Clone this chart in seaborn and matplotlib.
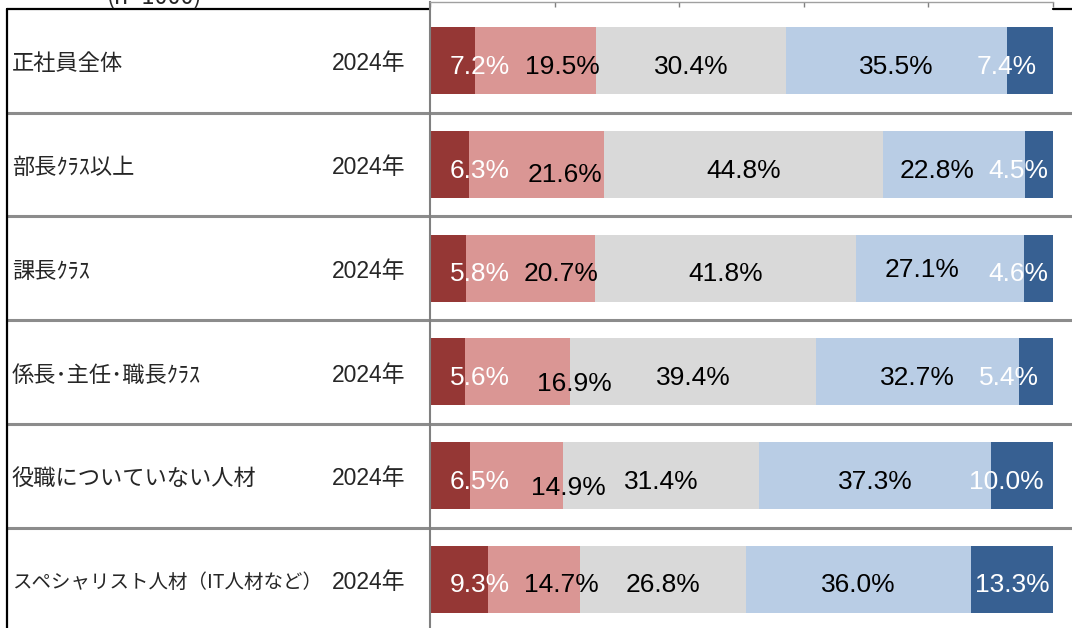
import numpy as np
import pandas as pd
import seaborn as sns
import matplotlib.pyplot as plt
from matplotlib.transforms import blended_transform_factory

# row labels
categories = ["正社員全体", "部長ｸﾗｽ以上", "課長ｸﾗｽ", "係長･主任･職長ｸﾗｽ",
              "役職についていない人材", "スペシャリスト人材（IT人材など）"]
year_label = "2024年"
n_label = "(n=1000)"

# shares per answer level (%), left to right
s1 = [7.2, 6.3, 5.8, 5.6, 6.5, 9.3]
s2 = [19.5, 21.6, 20.7, 16.9, 14.9, 14.7]
s3 = [30.4, 44.8, 41.8, 39.4, 31.4, 26.8]
s4 = [35.5, 22.8, 27.1, 32.7, 37.3, 36.0]
s5 = [7.4, 4.5, 4.6, 5.4, 10.0, 13.3]
series = [s1, s2, s3, s4, s5]

colors = ["#953735", "#DA9694", "#D9D9D9", "#B9CDE5", "#376092"]
text_colors = ["white", "black", "black", "black", "white"]

# manual label nudges (x in %, y in px) as placed in the original chart
shift_x = [
    [4.4, 4.85, 5.1, 5.2, 4.75, 3.35],
    [4.35, 4.6, 4.95, 9.15, 8.25, 4.45],
    [0, 0, 0, 0, 0, 0],
    [0, -2.7, -2.85, 0, 0, 0],
    [-3.8, -3.25, -3.3, -4.3, -2.6, 0],
]
shift_y = [
    [0, 0, 0, 0, 0, 0],
    [0, 4, 0, 6.5, 6, 0],
    [0, 0, 0, 0, 0, 0],
    [0, 0, -4, 0, 0, 0],
    [0, 0, 0, 0, 0, 0],
]

W, H = 1072, 628
sns.set_style("white")
plt.rcParams["font.family"] = ["Noto Sans CJK JP", "DejaVu Sans"]

fig = plt.figure(figsize=(W / 100, H / 100), dpi=100)
ax = fig.add_axes([430 / W, 0, 623 / W, 626 / H])

row_px = 103.7
df = pd.DataFrame({"category": categories})
cum = np.cumsum(np.array(series), axis=0)
# stacked bars: draw the running totals from the right so earlier ones sit on top
for k in reversed(range(len(series))):
    df["cum"] = cum[k]
    sns.barplot(data=df, x="cum", y="category", orient="h", color=colors[k],
                saturation=1, width=67 / row_px, linewidth=0, ax=ax)

ax.set_xlim(0, 100)
ax.set_ylim(-0.5 + (H - 9) / row_px, -0.5 - 7 / row_px)
ax.set_xlabel("")
ax.set_ylabel("")
ax.set_yticks([])
ax.set_xticks(np.arange(0, 101, 20))
ax.xaxis.tick_top()
ax.tick_params(axis="x", direction="in", length=3.5, width=1, color="#808080",
               labeltop=False, labelbottom=False)
for side in ["right", "bottom"]:
    ax.spines[side].set_visible(False)
ax.spines["top"].set_color("#a0a0a0")
ax.spines["top"].set_linewidth(1)
ax.spines["left"].set_color("#808080")
ax.spines["left"].set_linewidth(1.5)

# value labels
starts = cum - np.array(series)
for k, vals in enumerate(series):
    for i, v in enumerate(vals):
        xc = starts[k][i] + v / 2 + shift_x[k][i]
        yc = i + (13 + shift_y[k][i]) / row_px
        ax.text(xc, yc, f"{v:.1f}%", ha="center", va="baseline",
                color=text_colors[k], fontsize=19,
                family=["Liberation Sans", "DejaVu Sans"])

# table on the left
px2x = lambda px: (px - 430) / 6.23
for i in range(len(categories) - 1):
    ax.plot([px2x(7), px2x(W)], [i + 0.5, i + 0.5], color="#8c8c8c", lw=2.2,
            clip_on=False, solid_capstyle="butt")
ax.plot([px2x(7), 0], [-0.5, -0.5], color="black", lw=1.6, clip_on=False)
ax.plot([100, px2x(W)], [-0.5, -0.5], color="black", lw=1.6, clip_on=False)
ax.plot([px2x(7), px2x(7)], [-0.5, 6], color="black", lw=1.6, clip_on=False)

tr = blended_transform_factory(fig.transFigure, ax.transData)
for i, name in enumerate(categories):
    fs = 14 if len(name) > 12 else 16
    ax.text(12 / W, i + 0.03, name, transform=tr, ha="left", va="center",
            fontsize=fs, clip_on=False)
    ax.text(332 / W, i + 0.03, year_label, transform=tr, ha="left",
            va="center", fontsize=16.5, clip_on=False,
            family=["Liberation Sans", "Noto Sans CJK JP"])

fig.text(107 / W, 1 - 3 / H, n_label, ha="left", va="baseline", fontsize=17)

fig.savefig("out.png", dpi=100)
